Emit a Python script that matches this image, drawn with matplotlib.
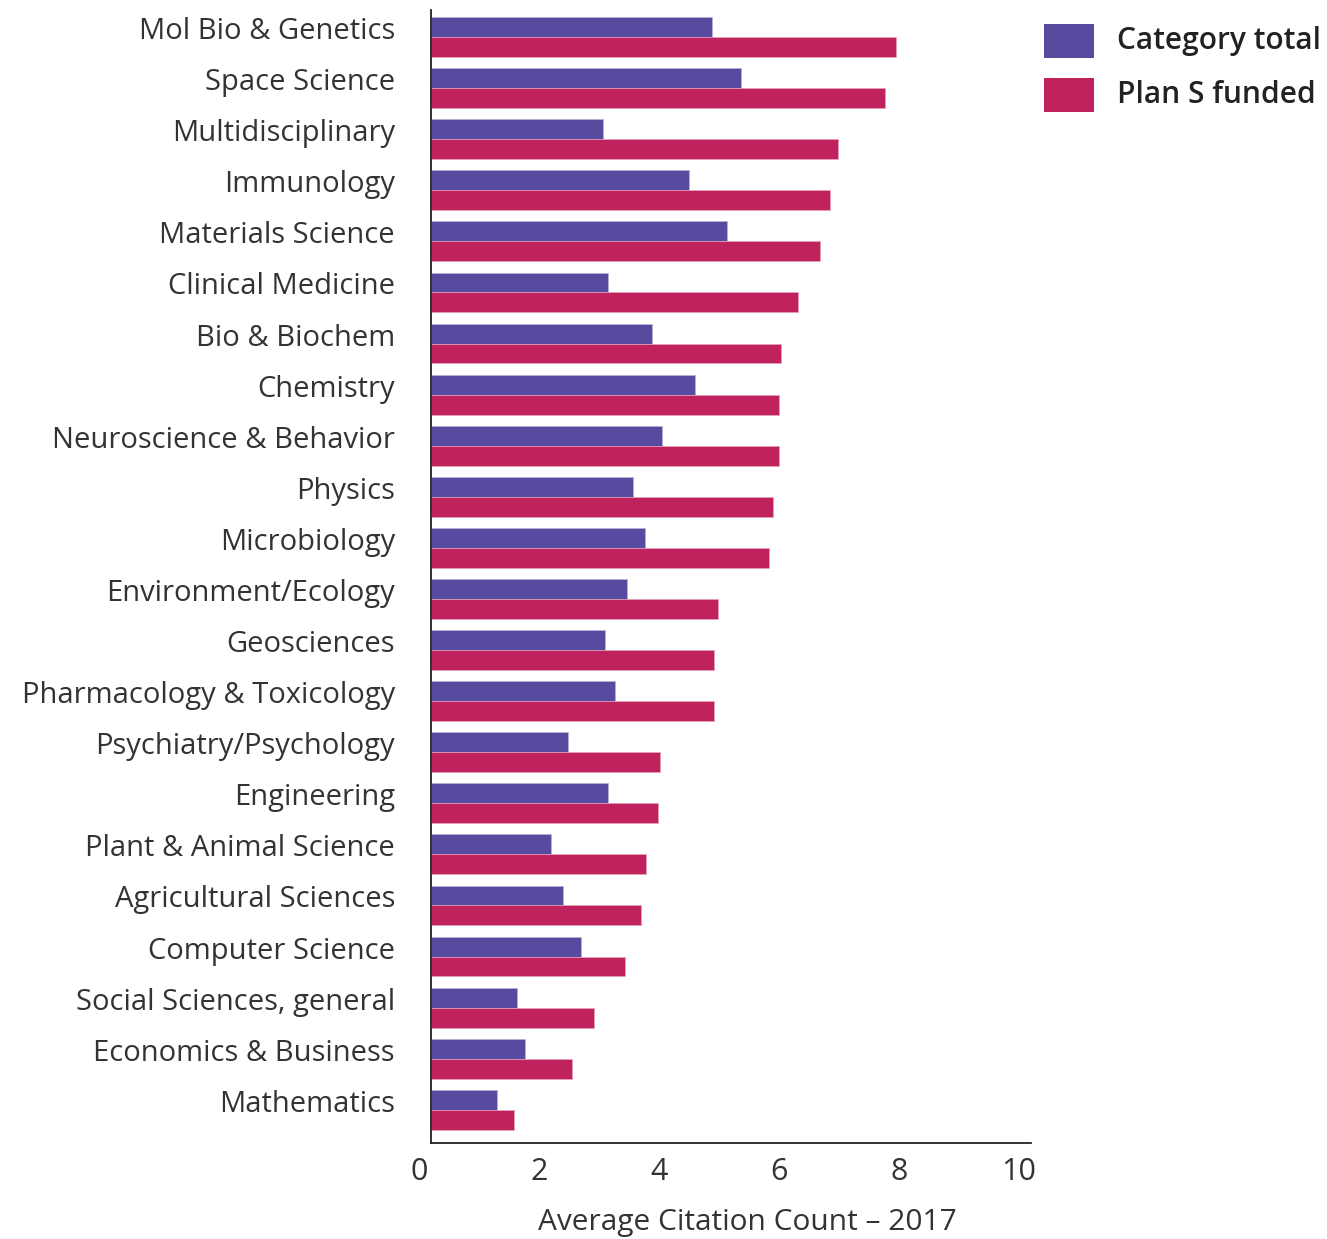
import matplotlib
matplotlib.use("Agg")
import matplotlib.pyplot as plt
import matplotlib.transforms as mtransforms
from matplotlib.patches import Rectangle
import numpy as np

categories = ["Mol Bio & Genetics", "Space Science", "Multidisciplinary", "Immunology",
              "Materials Science", "Clinical Medicine", "Bio & Biochem", "Chemistry",
              "Neuroscience & Behavior", "Physics", "Microbiology", "Environment/Ecology",
              "Geosciences", "Pharmacology & Toxicology", "Psychiatry/Psychology",
              "Engineering", "Plant & Animal Science", "Agricultural Sciences",
              "Computer Science", "Social Sciences, general", "Economics & Business",
              "Mathematics"]
category_total = [4.68, 5.17, 2.87, 4.30, 4.93, 2.95, 3.68, 4.40, 3.85, 3.37, 3.57,
                  3.27, 2.90, 3.07, 2.28, 2.95, 2.00, 2.20, 2.50, 1.43, 1.57, 1.10]
plan_s_funded = [7.75, 7.57, 6.78, 6.65, 6.48, 6.12, 5.83, 5.80, 5.80, 5.70, 5.63,
                 4.78, 4.72, 4.72, 3.82, 3.78, 3.58, 3.50, 3.23, 2.72, 2.35, 1.38]
x_ticks = [0, 2, 4, 6, 8, 10]
series_names = ["Category total", "Plan S funded"]

BLUE = "#574B9F"
RED = "#C0225E"
TXT = "#333333"

W, H = 1327, 1239
fig = plt.figure(figsize=(W / 100, H / 100), dpi=100)
ax = fig.add_axes([431 / W, 1 - 1143 / H, 600 / W, 1133 / H])

y = np.arange(len(categories))
bh = 0.39
ax.barh(y - bh / 2, category_total, height=bh, color=BLUE, label=series_names[0],
        edgecolor="#b9b3dc", linewidth=0.5)
ax.barh(y + bh / 2, plan_s_funded, height=bh, color=RED, label=series_names[1],
        edgecolor="#e3a3bb", linewidth=0.5)

ax.set_xlim(0, 10)
ax.set_ylim(len(categories) - 1 + 0.65, -0.53)
ax.set_yticks(y)
ax.set_yticklabels(categories, family=["Open Sans", "DejaVu Sans"], fontsize=21, color=TXT)
ax.set_xticks(x_ticks)
ax.set_xticklabels([str(t) for t in x_ticks],
                   family=["Liberation Sans Narrow", "Open Sans", "DejaVu Sans"],
                   fontsize=22, color=TXT)
ax.tick_params(axis="y", length=0, pad=26)
ax.tick_params(axis="x", length=0, pad=10)
xoff = mtransforms.ScaledTranslation(-12 / 100, 0, fig.dpi_scale_trans)
for lbl in ax.get_xticklabels():
    lbl.set_transform(lbl.get_transform() + xoff)
yoff = mtransforms.ScaledTranslation(0, 9 / 100, fig.dpi_scale_trans)
for lbl in ax.get_yticklabels():
    lbl.set_transform(lbl.get_transform() + yoff)

for s in ["top", "right"]:
    ax.spines[s].set_visible(False)
for s in ["left", "bottom"]:
    ax.spines[s].set_color("#222222")
    ax.spines[s].set_linewidth(1.3)

ax.set_xlabel("Average Citation Count – 2017",
              family=["Liberation Sans Narrow", "Open Sans", "DejaVu Sans"],
              fontsize=21.5, color=TXT)
ax.xaxis.set_label_coords((747 - 431) / 600, -(1208 - 1143) / 1133)

# legend
for i, (name, color) in enumerate(zip(series_names, [BLUE, RED])):
    top = 24 + 54 * i
    fig.patches.append(Rectangle((1044 / W, 1 - (top + 34) / H), 50 / W, 34 / H,
                                 transform=fig.transFigure, facecolor=color,
                                 edgecolor="none"))
    fig.text(1117 / W, 1 - (top + 17) / H, name, va="center", ha="left",
             family=["Open Sans", "DejaVu Sans"], fontsize=21.5, weight="semibold",
             color="#222222")

fig.savefig("out.png", dpi=100)
